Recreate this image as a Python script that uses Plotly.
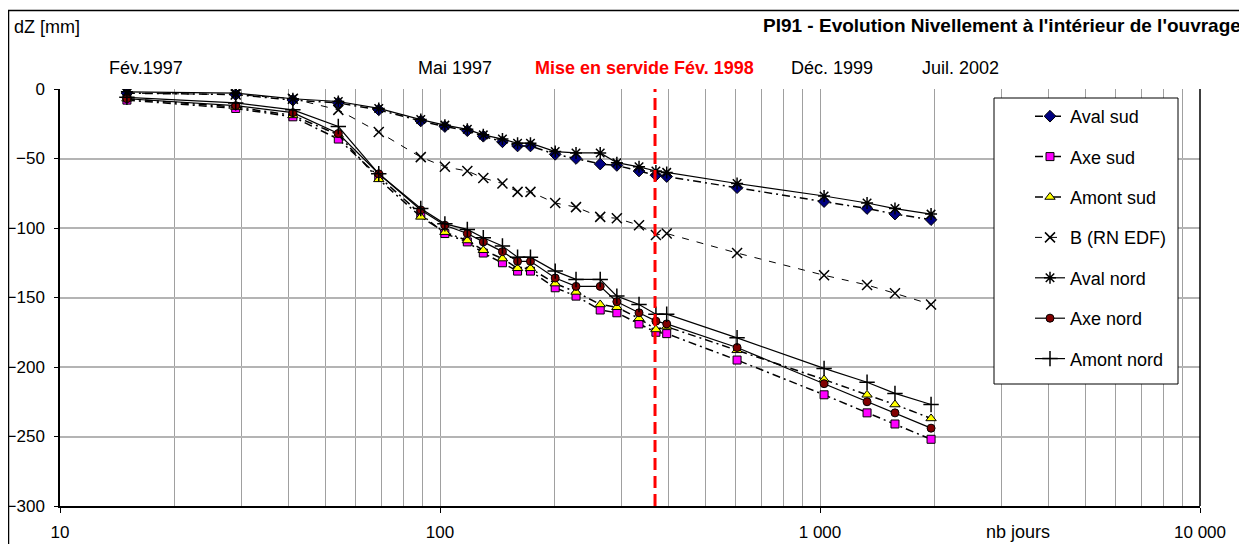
import plotly.graph_objects as go

# ---- data ----
days = [15, 29, 41, 54, 69, 89, 103, 118, 130, 146, 160, 173, 201, 228, 264, 292, 334, 370, 395, 605, 1025, 1330, 1575, 1960]

aval_sud = [-3, -4, -8, -10, -15, -23, -27, -30, -34, -38, -41, -41, -47, -50, -54, -55, -59, -62, -63, -71, -81, -86, -90, -94]
axe_sud = [-8, -14, -20, -36, -63, -90, -104, -110, -118, -125, -131, -131, -143, -149, -159, -161, -169, -175, -176, -195, -220, -233, -241, -252]
amont_sud = [-7, -13, -19, -33, -65, -92, -103, -109, -116, -122, -129, -129, -140, -146, -155, -157, -165, -173, -171, -188, -209, -220, -227, -237]
b_rn_edf = [-3, -4, -7, -15, -31, -49, -56, -59, -64, -68, -74, -74, -82, -85, -92, -93, -98, -105, -104, -118, -134, -141, -147, -155]
aval_nord = [-2, -3, -7, -9, -14, -22, -26, -29, -33, -36, -39, -39, -45, -46, -46, -53, -56, -59, -60, -68, -77, -82, -86, -90]
axe_nord = [-7, -12, -17, -32, -61, -87, -98, -104, -110, -117, -124, -124, -136, -142, -142, -153, -161, -167, -169, -186, -212, -225, -233, -244]
amont_nord = [-6, -10, -15, -27, -61, -86, -97, -101, -107, -113, -121, -121, -131, -137, -137, -149, -155, -162, -162, -179, -201, -211, -219, -227]

series_names = ["Aval sud", "Axe sud", "Amont sud", "B (RN EDF)", "Aval nord", "Axe nord", "Amont nord"]

x_tick_vals = [10, 100, 1000, 10000]
x_tick_text = ["10", "100", "1 000", "10 000"]
y_tick_vals = [0, -50, -100, -150, -200, -250, -300]

service_day = 368
top_labels = ["Fév.1997", "Mai 1997", "Déc. 1999", "Juil. 2002"]
top_label_px = [146, 455, 832, 960]

FONT = "Arial, Liberation Sans, sans-serif"
SUD_DASH = "8px,4px,2px,4px"
TXT = 18

fig = go.Figure()

def add(name, y, symbol, fill, dash, size=8, lw=1.5, mlw=1):
    fig.add_trace(go.Scatter(
        x=days, y=y, name=name, mode="lines+markers", legendgroup=name,
        line=dict(color="black", width=lw, dash=dash),
        marker=dict(symbol=symbol, size=size, color=fill,
                    line=dict(color="black", width=mlw)),
    ))

add(series_names[0], aval_sud, "diamond", "#000080", SUD_DASH, size=9)
add(series_names[1], axe_sud, "square", "#FF00FF", SUD_DASH, size=8)
add(series_names[2], amont_sud, "triangle-up", "#FFFF00", SUD_DASH, size=9)
add(series_names[3], b_rn_edf, "x-thin-open", "black", "7px,8px", size=10, lw=1, mlw=1.5)
add(series_names[4], aval_nord, "asterisk-open", "black", "solid", size=10, lw=1.2, mlw=1.5)
add(series_names[5], axe_nord, "circle", "#800000", "solid", size=8, lw=1.2)
add(series_names[6], amont_nord, "cross-thin-open", "black", "solid", size=11, lw=1.2, mlw=1.5)

# The page body has an 8px margin, so the figure starts at screen (8, 8).
OFF = 8
W, H = 1247 - OFF, 544 - OFF
# plot area in screen pixels: x 60..1200, y 89..506
L, R, T, B = 60, 1200, 89, 506
def px(xp):
    return (xp - L) / (R - L)
def py(yp):
    return (B - yp) / (B - T)

shapes = [
    # outer frame
    dict(type="rect", xref="paper", yref="paper", x0=px(8.5), x1=px(1241), y0=py(570), y1=py(10.5),
         line=dict(color="black", width=1.5), layer="below"),
    # plot right border
    dict(type="line", xref="paper", yref="paper", x0=1, x1=1, y0=0, y1=1,
         line=dict(color="black", width=1.5)),
    # service line
    dict(type="line", xref="x", yref="paper", x0=service_day, x1=service_day, y0=0, y1=1,
         line=dict(color="#FF0000", width=3, dash="12px,6px"), layer="above"),
    # legend box
    dict(type="rect", xref="paper", yref="paper", x0=px(994), x1=px(1178), y0=py(384), y1=py(98),
         line=dict(color="black", width=1), fillcolor="white", layer="above"),
]

annotations = [
    dict(text="dZ [mm]", x=px(12), y=py(27), xref="paper", yref="paper", xanchor="left",
         yanchor="middle", showarrow=False, font=dict(size=TXT, color="black", family=FONT)),
    dict(text="<b>PI91 - Evolution Nivellement à l'intérieur de l'ouvrage</b>", x=px(1243), y=py(25),
         xref="paper", yref="paper", xanchor="right", yanchor="middle", showarrow=False,
         font=dict(size=19, color="black", family=FONT)),
    dict(text="<b>Mise en servide Fév. 1998</b>", x=px(644), y=py(68), xref="paper", yref="paper",
         xanchor="center", yanchor="middle", showarrow=False,
         font=dict(size=TXT, color="#FF0000", family=FONT)),
    dict(text="nb jours", x=px(1018), y=py(532), xref="paper", yref="paper", xanchor="center",
         yanchor="middle", showarrow=False, font=dict(size=TXT, color="black", family=FONT)),
]
for t, p in zip(top_labels, top_label_px):
    annotations.append(dict(text=t, x=px(p), y=py(68), xref="paper", yref="paper", xanchor="center",
                            yanchor="middle", showarrow=False,
                            font=dict(size=TXT, color="black", family=FONT)))

fig.update_layout(
    width=W, height=H,
    margin=dict(l=L - OFF, r=(OFF + W) - R, t=T - OFF, b=(OFF + H) - B, autoexpand=False),
    paper_bgcolor="white", plot_bgcolor="white",
    font=dict(family=FONT, size=17, color="black"),
    shapes=shapes, annotations=annotations,
    showlegend=True,
    legend=dict(x=px(1030), y=py(98), xanchor="left", yanchor="top",
                bgcolor="rgba(0,0,0,0)", borderwidth=0, tracegroupgap=14,
                font=dict(size=TXT, family=FONT, color="black")),
)

fig.update_xaxes(
    type="log", range=[1, 4], automargin=False,
    tickvals=x_tick_vals, ticktext=x_tick_text,
    showgrid=True, gridcolor="#a0a0a0", gridwidth=1,
    minor=dict(dtick="D1", showgrid=True, gridcolor="#a0a0a0", gridwidth=1),
    showline=True, linecolor="black", linewidth=1.5,
    ticks="outside", ticklen=5, tickcolor="black",
    ticklabelstandoff=5, zeroline=False,
    tickfont=dict(size=17),
)
fig.update_yaxes(
    range=[-300, 0], tickvals=y_tick_vals, automargin=False,
    showgrid=True, gridcolor="#b4b4b4", gridwidth=1.5,
    showline=True, linecolor="black", linewidth=1.5,
    ticks="outside", ticklen=4, tickcolor="black",
    ticklabelstandoff=6, zeroline=False,
    tickfont=dict(size=17),
)

fig.write_html("out.html")
